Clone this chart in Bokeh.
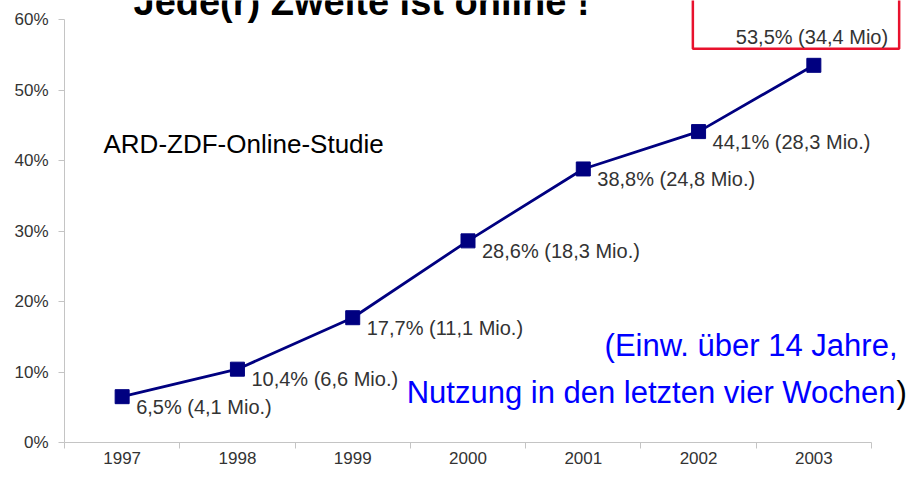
from bokeh.plotting import figure
from bokeh.models import Range1d, FixedTicker, Label, LabelSet, ColumnDataSource
from bokeh.core.properties import value
from bokeh.embed import file_html
from bokeh.resources import INLINE

# ---- data ----
years = [1997, 1998, 1999, 2000, 2001, 2002, 2003]
share_pct = [6.5, 10.4, 17.7, 28.6, 38.8, 44.1, 53.5]
users_mio = [4.1, 6.6, 11.1, 18.3, 24.8, 28.3, 34.4]
ytick_values = [0, 10, 20, 30, 40, 50, 60]
ytick_labels = ["0%", "10%", "20%", "30%", "40%", "50%", "60%"]
title_text = "Jede(r) Zweite ist online !"
study_text = "ARD-ZDF-Online-Studie"
note_line1 = "(Einw. über 14 Jahre,"
note_line2 = "Nutzung in den letzten vier Wochen"

def de(v):
    return f"{v:.1f}".replace(".", ",")

point_labels = [f"{de(s)}% ({de(m)} Mio.)" for s, m in zip(share_pct, users_mio)]
last_label = f"{de(share_pct[-1])}% ({de(users_mio[-1])} Mio)"

FONT = "Liberation Sans"
NAVY = "#000080"
AXIS_GRAY = "#c4c4c4"
TXT = "#333333"

# ---- layout (pixels) ----
W, H = 908, 474
AX_L, AX_R = 64, 871        # x pixel of axis start / end
AX_T, AX_B = 19, 442        # y pixel of 60% / 0%
x0, x1 = years[0] - 0.5, years[-1] + 0.5
y0, y1 = ytick_values[0], ytick_values[-1]
ppx = (AX_R - AX_L) / (x1 - x0)
ppy = (AX_B - AX_T) / (y1 - y0)
x_range = Range1d(x0 - AX_L / ppx, x1 + (W - AX_R) / ppx)
y_range = Range1d(y0 - (H - AX_B) / ppy, y1 + AX_T / ppy)

def px_x(px):
    return x0 + (px - AX_L) / ppx

def px_y(py):
    return y0 + (AX_B - py) / ppy

p = figure(width=W, height=H, output_backend="svg", toolbar_location=None,
           x_range=x_range, y_range=y_range,
           min_border=0, min_border_left=0, min_border_right=0,
           min_border_top=0, min_border_bottom=0)
p.outline_line_color = None
p.xgrid.visible = False
p.ygrid.visible = False
p.background_fill_color = "white"
p.border_fill_color = "white"

# x axis: labels at category centres, ticks at boundaries
p.xaxis.fixed_location = y0
p.xaxis.bounds = (x0, x1)
p.xaxis.ticker = FixedTicker(ticks=years, minor_ticks=[y - 0.5 for y in years] + [years[-1] + 0.5])
p.xaxis.major_label_overrides = {y: str(y) for y in years}
p.xaxis.major_tick_line_color = None
p.xaxis.major_tick_out = 0
p.xaxis.major_tick_in = 0
p.xaxis.minor_tick_line_color = AXIS_GRAY
p.xaxis.minor_tick_out = 6
p.xaxis.minor_tick_in = 0
p.xaxis.axis_line_color = AXIS_GRAY
p.xaxis.major_label_standoff = 3
p.xaxis.major_label_text_font = FONT
p.xaxis.major_label_text_font_size = "17px"
p.xaxis.major_label_text_color = TXT

p.yaxis.fixed_location = x0
p.yaxis.bounds = (y0, y1)
p.yaxis.ticker = FixedTicker(ticks=ytick_values, minor_ticks=[])
p.yaxis.major_label_overrides = dict(zip(ytick_values, ytick_labels))
p.yaxis.axis_line_color = AXIS_GRAY
p.yaxis.major_tick_line_color = AXIS_GRAY
p.yaxis.major_tick_out = 6
p.yaxis.major_tick_in = 0
p.yaxis.major_label_standoff = 10
p.yaxis.major_label_text_font = FONT
p.yaxis.major_label_text_font_size = "17px"
p.yaxis.major_label_text_color = TXT

src = ColumnDataSource(dict(year=years, share=share_pct, label=point_labels))
p.line("year", "share", source=src, line_color=NAVY, line_width=2.8)
p.scatter("year", "share", source=src, marker="square", size=14,
          fill_color=NAVY, line_color=NAVY)

lab_src = ColumnDataSource(dict(year=years[:-1], share=share_pct[:-1], label=point_labels[:-1]))
p.add_layout(LabelSet(x="year", y="share", text="label", source=lab_src,
                      x_offset=14, y_offset=-10, text_baseline="middle",
                      text_font=value(FONT), text_font_size="20px", text_color=TXT))

# highlighted last value in red box (padding order: left, right, top, bottom)
p.add_layout(Label(x=years[-1], y=share_pct[-1], text=last_label,
                   x_offset=-121, y_offset=48, text_baseline="middle",
                   text_font=FONT, text_font_size="20px", text_color=TXT,
                   border_line_color="#e8112d", border_line_width=2.5,
                   padding=(43, 11, 40, 1)))

p.add_layout(Label(x=px_x(133), y=px_y(1), text=title_text, text_baseline="alphabetic",
                   text_font=FONT, text_font_size="38px", text_font_style="bold",
                   text_color="black"))
p.add_layout(Label(x=px_x(103), y=px_y(143), text=study_text, text_baseline="middle",
                   text_font=FONT, text_font_size="26px", text_color="black"))
p.add_layout(Label(x=px_x(897), y=px_y(345), text=note_line1, text_baseline="middle",
                   text_align="right", text_font=FONT, text_font_size="31px",
                   text_color="#0000ff"))
p.add_layout(Label(x=px_x(895), y=px_y(392), text=note_line2, text_baseline="middle",
                   text_align="right", text_font=FONT, text_font_size="31px",
                   text_color="#0000ff"))
p.add_layout(Label(x=px_x(896), y=px_y(392), text=")", text_baseline="middle",
                   text_align="left", text_font=FONT, text_font_size="31px",
                   text_color="black"))

open("out.html", "w").write(file_html(p, INLINE))
